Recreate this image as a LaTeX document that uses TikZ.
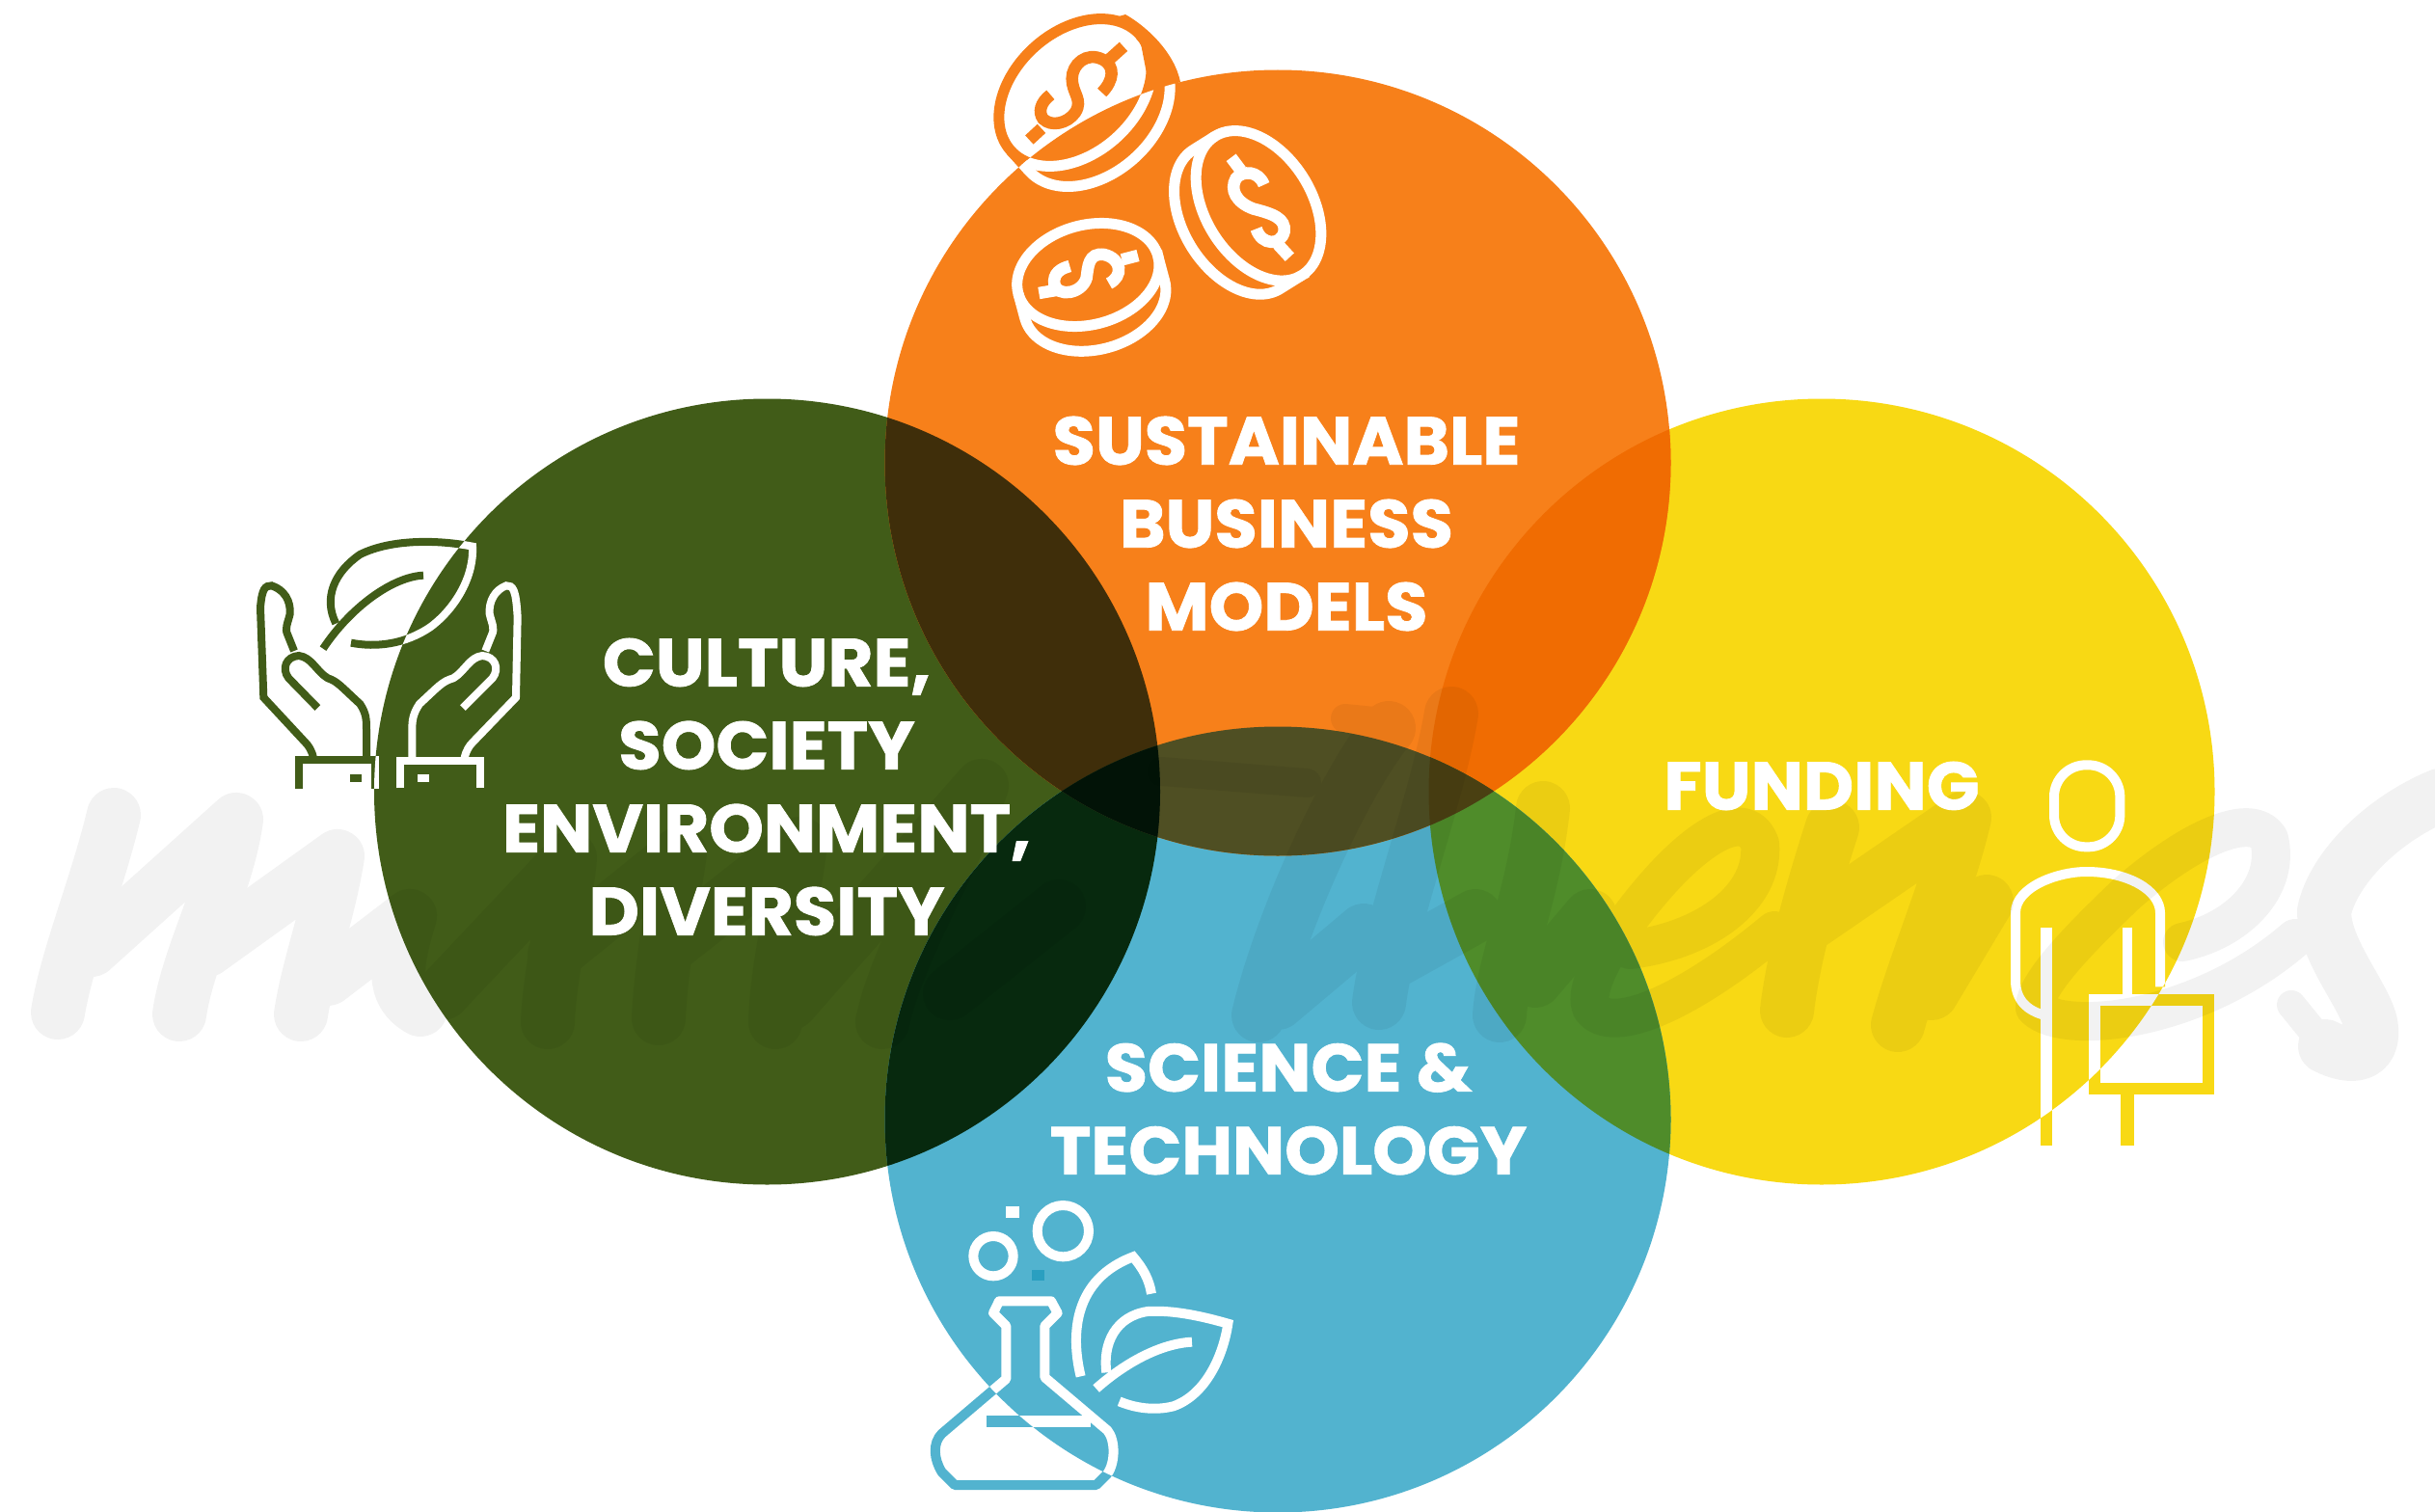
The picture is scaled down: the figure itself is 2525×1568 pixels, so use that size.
\documentclass[tikz,border=0pt]{standalone}
\usepackage{fontspec}
\setmainfont{Poppins}
\newfontfamily\labfont[FakeStretch=1.03,BoldFeatures={FakeBold=1.2}]{Poppins}
\definecolor{cor}{HTML}{F7801A}
\definecolor{cgr}{HTML}{415C18}
\definecolor{cye}{HTML}{F8D914}
\definecolor{cbl}{HTML}{52B3CF}
\definecolor{xgo}{HTML}{3F2E0A}
\definecolor{xoy}{HTML}{F06C02}
\definecolor{xbg}{HTML}{07290E}
\definecolor{xbo}{HTML}{4F4F23}
\definecolor{xby}{HTML}{4F8C2A}
\definecolor{xgob}{HTML}{021307}
\definecolor{xyob}{HTML}{4A4012}
\definecolor{cdot}{HTML}{2A9FC0}
\newcommand{\OC}{(1325,480) circle[radius=407.5]}
\newcommand{\GC}{(795.5,821) circle[radius=407.5]}
\newcommand{\YC}{(1889,821) circle[radius=407.5]}
\newcommand{\BC}{(1325,1161) circle[radius=407.5]}
% coin: cx cy a b rot shift
\newcommand{\coinicon}[6]{%
  \begin{scope}[shift={(#1,#2)},rotate=#5]
    \draw plot[domain=0:360,samples=60,smooth] ({#3*cos(\x)},{#4*sin(\x)}) -- cycle;
    \draw (-#3,0) -- plot[domain=180:0,samples=40,smooth] ({#3*cos(\x)},{#6+#4*sin(\x)}) -- (#3,0);
  \end{scope}}
\newcommand{\coinsart}{%
  \begin{scope}[shift={(980,0)},scale=1/3,line width=11pt]
    \coinicon{405}{288}{270}{190}{42}{85}
    \coinicon{975}{640}{255}{165}{-58}{80}
    \coinicon{445}{855}{225}{155}{15}{80}
    \begin{scope}[line width=12.5pt]
    \draw (555,145)--(505,190);
    \draw (488,288) .. controls (525,250) and (530,205) .. (490,185) .. controls (440,160) and (395,200) .. (395,245) .. controls (395,290) and (430,310) .. (405,350) .. controls (380,385) and (330,395) .. (305,370) .. controls (290,350) and (295,320) .. (328,295);
    \draw (300,400)--(262,435);
    \draw (890,490)--(920,530);
    \draw (992,575) .. controls (975,530) and (925,530) .. (905,555) .. controls (885,590) and (905,630) .. (960,650) .. controls (1020,665) and (1060,680) .. (1055,720) .. controls (1045,765) and (985,765) .. (968,712);
    \draw (1035,760)--(1072,800);
    \draw (600,795)--(550,808);
    \draw (510,882) .. controls (555,860) and (550,805) .. (495,792) .. controls (445,785) and (445,830) .. (440,865) .. controls (425,915) and (350,925) .. (340,885) .. controls (335,850) and (360,835) .. (388,828);
    \draw (345,903)--(292,912);
    \end{scope}
  \end{scope}}
\newcommand{\handsart}{%
  \begin{scope}[shift={(240,530)},scale=1/3,line width=8pt]
    \draw (255,768) .. controls (250,745) and (240,730) .. (230,720) -- (100,580) -- (90,300) .. controls (95,240) and (105,232) .. (125,232) .. controls (165,245) and (185,280) .. (182,320) .. controls (175,350) and (165,365) .. (175,385) -- (195,435);
    \draw (268,612) -- (178,520) .. controls (155,490) and (170,452) .. (210,450) .. controls (250,455) and (265,500) .. (300,520) .. controls (330,530) and (340,545) .. (400,600) .. controls (420,630) and (420,650) .. (420,680) -- (420,768);
    \draw (210,865) -- (210,775) -- (447,775) -- (447,865);
    \draw (725,768) .. controls (730,745) and (740,730) .. (750,720) -- (885,580) -- (890,330) .. controls (885,240) and (875,232) .. (855,232) .. controls (820,245) and (800,280) .. (803,320) .. controls (810,350) and (820,365) .. (810,385) -- (790,435);
    \draw (720,612) -- (812,520) .. controls (835,490) and (820,452) .. (780,450) .. controls (740,455) and (725,500) .. (690,520) .. controls (655,530) and (645,545) .. (585,600) .. controls (565,630) and (562,650) .. (562,680) -- (562,768);
    \draw (525,862) -- (525,778) -- (775,778) -- (775,862);
    \fill (368,818) rectangle (405,842);
    \fill (578,818) rectangle (615,842);
    \draw (285,428) .. controls (370,300) and (500,205) .. (597,200);
    \draw (325,350) .. controls (285,270) and (320,190) .. (400,135) .. controls (500,85) and (650,90) .. (750,110) .. controls (755,200) and (700,300) .. (620,360) .. controls (540,415) and (450,425) .. (372,410);
  \end{scope}}
\newcommand{\personart}{%
  \begin{scope}[shift={(2040,760)},scale=1/3,line width=10pt]
    \draw[rounded corners=33pt] (270,100) rectangle (475,355);
    \draw (245,880) .. controls (185,865) and (150,830) .. (150,770) -- (150,560) .. controls (150,480) and (280,432) .. (370,432) .. controls (500,432) and (600,490) .. (600,560) -- (600,790);
    \draw[line width=12pt] (247,605) -- (247,1285);
    \draw (497,605) -- (497,820);
    \draw[line width=14pt] (497,1120) -- (497,1285);
    \draw[line width=12pt] (395,832) rectangle (750,1108);
  \end{scope}}
\newcommand{\flaskart}{%
  \begin{scope}[shift={(940,1220)},scale=1/3,line width=10pt]
    \draw[line join=round] (310,630) -- (310,465) -- (270,425) -- (288,388) -- (450,388) -- (470,425) -- (430,465) -- (430,625) -- (625,790) .. controls (650,820) and (650,890) .. (625,925) -- (590,960) -- (150,960) -- (110,920) .. controls (85,880) and (80,830) .. (110,800) -- cycle;
    \draw[line width=12pt] (248,762) -- (572,762);
    \draw (270,248) circle[radius=62];
    \draw (487,170) circle[radius=80];
    \fill (310,93) rectangle (350,130);
    \draw (542,622) .. controls (510,490) and (520,320) .. (705,250) .. controls (735,285) and (755,320) .. (762,365);
    \draw (590,660) .. controls (680,580) and (790,520) .. (888,515);
    \draw (622,610) .. controls (610,520) and (650,435) .. (750,420) .. controls (830,415) and (920,435) .. (1000,458) .. controls (985,560) and (930,680) .. (830,715) .. controls (770,730) and (710,720) .. (662,700);
  \end{scope}}
% #1 colour, #2 clip circle, #3 art
\newcommand{\twotone}[3]{%
  \begin{scope}[color=#1]#3\end{scope}
  \begin{scope}\clip #2;\begin{scope}[color=white]#3\end{scope}\end{scope}}
\tikzset{
  lab/.style={text=white,align=center,inner sep=0pt,font=\labfont\bfseries\fontsize{70}{86}\selectfont},
  brush/.style={line width=56pt,line cap=round,line join=round},
  thinbrush/.style={line width=30pt,line cap=round,line join=round},
  loopbrush/.style={line width=40pt,line cap=round,line join=round}
}
\begin{document}
\begin{tikzpicture}[x=1pt,y=-1pt]
\useasboundingbox (0,0) rectangle (2525,1568);
\fill[white] (0,0) rectangle (2525,1568);
% circles
\fill[cgr] \GC;
\fill[cye] \YC;
\fill[cbl] \BC;
\fill[cor] \OC;
% overlaps
\begin{scope}\clip \OC; \fill[xgo] \GC; \end{scope}
\begin{scope}\clip \OC; \fill[xoy] \YC; \end{scope}
\begin{scope}\clip \BC; \fill[xbg] \GC; \end{scope}
\begin{scope}\clip \BC; \fill[xby] \YC; \end{scope}
\begin{scope}\clip \BC; \fill[xbo] \OC; \end{scope}
\begin{scope}\clip \BC; \clip \OC; \fill[xgob] \GC; \end{scope}
\begin{scope}\clip \BC; \clip \OC; \fill[xyob] \YC; \end{scope}
% icons
\fill[cor] (1160,17) -- (1167,15) .. controls (1190,28) and (1218,55) .. (1224,85) -- (1193,97) -- (1182,40) -- (1163,24) -- cycle;
\twotone{cor}{\OC}{\coinsart}
\twotone{cgr}{\GC}{\handsart}
\twotone{cye}{\YC}{\personart}
\twotone{cbl}{\BC}{\flaskart}
\fill[cdot] (1070,1317) rectangle (1083,1328);
% watermark
\begin{scope}[transparency group,opacity=.05]
  % m
  \draw[brush] (118,845) .. controls (100,920) and (70,990) .. (60,1050);
  \draw[brush] (95,985) -- (245,850) .. controls (235,920) and (195,990) .. (186,1052);
  \draw[brush] (215,985) -- (350,888) .. controls (340,950) and (320,1000) .. (312,1052);
  \draw[brush] (340,1015) -- (425,950) .. controls (410,1000) and (405,1030) .. (436,1047);
  % a s s
  \draw[brush] (459,1030) -- (591,890) .. controls (585,950) and (570,1010) .. (568,1060);
  \draw[brush] (575,990) -- (705,885) .. controls (695,950) and (685,1010) .. (683,1056);
  \draw[brush] (690,985) -- (830,875) .. controls (820,950) and (805,1010) .. (804,1060);
  \draw[brush] (820,1040) -- (1018,815) .. controls (985,900) and (930,990) .. (915,1060);
  \draw[brush] (985,1030) -- (1098,940);
  % T h
  \draw[thinbrush] (1205,800) -- (1355,812);
  \draw[thinbrush] (1395,745) -- (1445,750);
  \draw[brush] (1440,755) .. controls (1395,810) and (1330,950) .. (1305,1053);
  \draw[brush] (1325,1040) -- (1414,965);
  \draw[brush] (1505,740) .. controls (1490,830) and (1440,960) .. (1430,1040);
  \draw[brush] (1440,1000) -- (1530,950);
  \draw[brush] (1600,838) .. controls (1590,930) and (1558,1000) .. (1555,1053);
  \draw[brush] (1592,1017) -- (1649,950);
  % e
  \draw[loopbrush] (1690,985) .. controls (1770,975) and (1830,930) .. (1825,875) .. controls (1810,835) and (1760,870) .. (1720,915) .. controls (1680,960) and (1640,1020) .. (1650,1045) .. controls (1670,1075) and (1750,1040) .. (1840,965);
  % m
  \draw[brush] (1900,858) .. controls (1880,920) and (1860,990) .. (1853,1048);
  \draw[brush] (1874,960) -- (2037,848) .. controls (2020,920) and (1985,1000) .. (1968,1063);
  \draw[brush] (2003,1030) -- (2060,935);
  % e
  \draw[loopbrush] (2263,977) .. controls (2320,965) and (2365,920) .. (2353,870) .. controls (2335,840) and (2270,870) .. (2205,927) .. controls (2160,970) and (2110,1020) .. (2110,1045) .. controls (2140,1075) and (2280,1060) .. (2380,973);
  % s
  \draw[brush] (2530,825) .. controls (2470,850) and (2420,900) .. (2410,945) .. controls (2410,985) and (2450,1030) .. (2458,1060) .. controls (2465,1095) and (2440,1100) .. (2411,1085);
  \draw[thinbrush] (2411,1085) -- (2376,1042);
\end{scope}
% labels
\node[lab] (sbm) at (1334,543) {SUSTAINABLE\\BUSINESS\\MODELS};
\node[lab] (cult) at (795,816) {CULTURE,\\SOCIETY\\ENVIRONMENT,\\DIVERSITY};
\node[lab] (fund) at (1889,815) {FUNDING};
\node[lab] (sci) at (1336,1150) {SCIENCE \&\\TECHNOLOGY};
\end{tikzpicture}
\end{document}
